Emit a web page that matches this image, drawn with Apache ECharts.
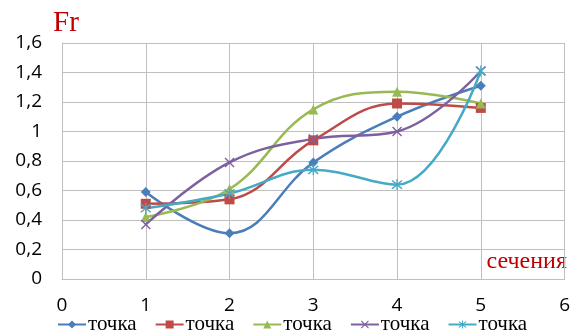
<!DOCTYPE html>
<html>
<head>
<meta charset="utf-8">
<script src="https://cdn.jsdelivr.net/npm/echarts@6/dist/echarts.min.js"></script>
<style>
  html, body { margin: 0; padding: 0; background: #fff; }
  #chart { width: 573px; height: 335px; }
</style>
</head>
<body>
<div id="chart"></div>
<script>
// Sections along the x axis and Fr values for each measuring point
const sections = [1, 2, 3, 4, 5];
const point1 = [0.59, 0.31, 0.79, 1.10, 1.31];
const point2 = [0.51, 0.54, 0.94, 1.19, 1.16];
const point3 = [0.42, 0.61, 1.15, 1.27, 1.19];
const point4 = [0.37, 0.79, 0.95, 1.00, 1.41];
const point5 = [0.48, 0.58, 0.74, 0.64, 1.41];
const seriesNames = ['точка', 'точка', 'точка', 'точка', 'точка'];

const colors = ['#4A7EBB', '#BE4B48', '#98B954', '#7D60A0', '#46AAC5'];
const crossPath = 'path://M0,1L1,0L5,4L9,0L10,1L6,5L10,9L9,10L5,6L1,10L0,9L4,5Z';
const starPath = 'path://M0,1L1,0L5,4L9,0L10,1L6,5L10,9L9,10L5,6L1,10L0,9L4,5Z M4.4,-1L5.6,-1L5.6,11L4.4,11Z';
const symbols = ['diamond', 'rect', 'triangle', crossPath, starPath];
const symbolSizes = [10, 10, 10, 10, 11];
const valueSets = [point1, point2, point3, point4, point5];

const chart = echarts.init(document.getElementById('chart'));

const fmt = v => String(Math.round(v * 10) / 10).replace('.', ',');

chart.setOption({
  animation: false,
  grid: { left: 62, right: 5, top: 43, bottom: 56, containLabel: false },
  legend: {
    bottom: -5,
    left: 52,
    itemWidth: 28,
    itemHeight: 10,
    itemGap: 18,
    textStyle: { fontFamily: 'Liberation Serif', fontSize: 21, color: '#000', padding: [0, 0, 0, -3] },
    data: seriesNames.map((n, i) => ({ name: n + '\u200B'.repeat(i) }))
  },
  xAxis: {
    type: 'value',
    min: 0, max: 6, interval: 1,
    axisLine: { show: true, lineStyle: { color: '#BFBFBF', width: 1 } },
    axisTick: { show: false },
    splitLine: { show: true, lineStyle: { color: '#BFBFBF', width: 1 } },
    axisLabel: { margin: 17, fontFamily: 'Open Sans', fontSize: 19, color: '#000' }
  },
  yAxis: {
    type: 'value',
    min: 0, max: 1.6, interval: 0.2,
    axisLine: { show: true, lineStyle: { color: '#BFBFBF', width: 1 } },
    axisTick: { show: false },
    splitLine: { show: true, lineStyle: { color: '#BFBFBF', width: 1 } },
    axisLabel: { margin: 20, fontFamily: 'Open Sans', fontSize: 19, color: '#000', formatter: fmt }
  },
  graphic: [
    { type: 'text', left: 53, top: 9, style: { text: 'Fr', fontFamily: 'Liberation Serif', fontSize: 29, fill: '#C00000' } },
    { type: 'text', right: 6, top: 250, style: { text: 'сечения', fontFamily: 'Liberation Serif', fontSize: 24, fill: '#C00000' } }
  ],
  series: valueSets.map((vals, i) => ({
    name: seriesNames[i] + '\u200B'.repeat(i),
    type: 'line',
    smooth: 0.4,
    data: sections.map((x, j) => [x, vals[j]]),
    symbol: symbols[i],
    symbolSize: symbolSizes[i],
    showAllSymbol: true,
    lineStyle: { color: colors[i], width: 2.5 },
    itemStyle: { color: colors[i] },
    emphasis: { disabled: true }
  }))
});
</script>
</body>
</html>
